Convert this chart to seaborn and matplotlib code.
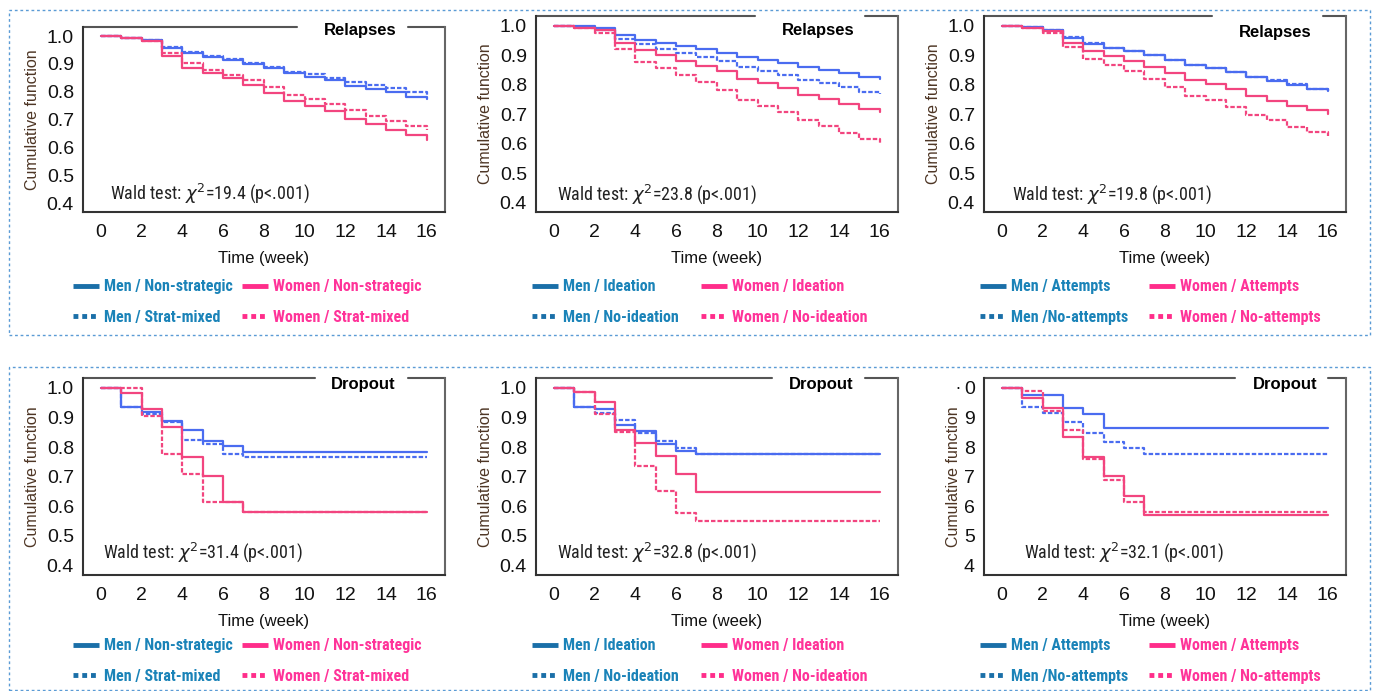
import matplotlib
matplotlib.use("Agg")
import matplotlib.pyplot as plt
import seaborn as sns
import pandas as pd
from matplotlib.lines import Line2D
from matplotlib.patches import Rectangle
from matplotlib import font_manager

# --- данные ---
weeks = list(range(17))

# Relapses: Non-strategic / Strat-mixed
rel_men_nonstrat = [1.0, 0.994, 0.988, 0.958, 0.94, 0.926, 0.914, 0.90, 0.884, 0.866, 0.854, 0.842, 0.822, 0.81, 0.798, 0.782, 0.775]
rel_men_stratmix = [1.0, 0.994, 0.988, 0.962, 0.942, 0.929, 0.917, 0.905, 0.89, 0.873, 0.863, 0.851, 0.837, 0.825, 0.813, 0.80, 0.788]
rel_wom_nonstrat = [1.0, 0.994, 0.981, 0.928, 0.887, 0.869, 0.848, 0.824, 0.797, 0.767, 0.75, 0.73, 0.704, 0.683, 0.664, 0.644, 0.628]
rel_wom_stratmix = [1.0, 0.994, 0.983, 0.938, 0.902, 0.88, 0.861, 0.842, 0.818, 0.789, 0.774, 0.755, 0.734, 0.714, 0.695, 0.676, 0.662]

# Relapses: Ideation / No-ideation
rel_men_ideation = [1.0, 0.998, 0.991, 0.969, 0.952, 0.943, 0.932, 0.92, 0.907, 0.893, 0.883, 0.874, 0.86, 0.85, 0.841, 0.827, 0.82]
rel_men_noideation = [1.0, 0.995, 0.986, 0.956, 0.938, 0.92, 0.909, 0.895, 0.88, 0.859, 0.848, 0.834, 0.816, 0.805, 0.791, 0.776, 0.767]
rel_wom_ideation = [1.0, 0.993, 0.984, 0.943, 0.916, 0.9, 0.882, 0.865, 0.845, 0.82, 0.807, 0.789, 0.766, 0.751, 0.733, 0.718, 0.708]
rel_wom_noideation = [1.0, 0.991, 0.975, 0.92, 0.877, 0.855, 0.832, 0.809, 0.781, 0.748, 0.727, 0.707, 0.68, 0.659, 0.636, 0.617, 0.6]

# Relapses: Attempts / No-attempts
rel_men_attempts = [1.0, 0.995, 0.986, 0.96, 0.939, 0.924, 0.913, 0.899, 0.884, 0.866, 0.856, 0.842, 0.825, 0.814, 0.8, 0.786, 0.777]
rel_men_noattempts = [1.0, 0.995, 0.987, 0.961, 0.94, 0.925, 0.914, 0.9, 0.885, 0.867, 0.857, 0.843, 0.826, 0.815, 0.801, 0.787, 0.778]
rel_wom_attempts = [1.0, 0.993, 0.982, 0.943, 0.915, 0.898, 0.88, 0.861, 0.84, 0.815, 0.802, 0.784, 0.761, 0.745, 0.727, 0.714, 0.7]
rel_wom_noattempts = [1.0, 0.991, 0.977, 0.927, 0.886, 0.866, 0.845, 0.82, 0.793, 0.761, 0.748, 0.725, 0.698, 0.68, 0.658, 0.639, 0.627]

# Dropout: Non-strategic / Strat-mixed
drop_men_nonstrat = [1.0, 0.936, 0.918, 0.889, 0.856, 0.822, 0.803, 0.783, 0.783, 0.783, 0.783, 0.783, 0.783, 0.783, 0.783, 0.783, 0.783]
drop_men_stratmix = [1.0, 0.936, 0.912, 0.884, 0.825, 0.811, 0.778, 0.768, 0.768, 0.768, 0.768, 0.768, 0.768, 0.768, 0.768, 0.768, 0.768]
drop_wom_nonstrat = [1.0, 0.983, 0.927, 0.867, 0.767, 0.702, 0.616, 0.581, 0.581, 0.581, 0.581, 0.581, 0.581, 0.581, 0.581, 0.581, 0.581]
drop_wom_stratmix = [1.0, 1.0, 0.904, 0.775, 0.709, 0.615, 0.615, 0.581, 0.581, 0.581, 0.581, 0.581, 0.581, 0.581, 0.581, 0.581, 0.581]

# Dropout: Ideation / No-ideation
drop_men_ideation = [1.0, 0.936, 0.927, 0.876, 0.854, 0.81, 0.788, 0.775, 0.775, 0.775, 0.775, 0.775, 0.775, 0.775, 0.775, 0.775, 0.775]
drop_men_noideation = [1.0, 0.935, 0.916, 0.89, 0.848, 0.82, 0.797, 0.778, 0.778, 0.778, 0.778, 0.778, 0.778, 0.778, 0.778, 0.778, 0.778]
drop_wom_ideation = [1.0, 0.985, 0.953, 0.859, 0.814, 0.769, 0.708, 0.648, 0.648, 0.648, 0.648, 0.648, 0.648, 0.648, 0.648, 0.648, 0.648]
drop_wom_noideation = [1.0, 0.987, 0.912, 0.85, 0.735, 0.651, 0.578, 0.55, 0.55, 0.55, 0.55, 0.55, 0.55, 0.55, 0.55, 0.55, 0.55]

# Dropout: Attempts / No-attempts
drop_men_attempts = [1.0, 0.977, 0.977, 0.932, 0.91, 0.864, 0.864, 0.864, 0.864, 0.864, 0.864, 0.864, 0.864, 0.864, 0.864, 0.864, 0.864]
drop_men_noattempts = [1.0, 0.935, 0.916, 0.884, 0.846, 0.817, 0.796, 0.775, 0.775, 0.775, 0.775, 0.775, 0.775, 0.775, 0.775, 0.775, 0.775]
drop_wom_attempts = [1.0, 0.966, 0.932, 0.834, 0.767, 0.702, 0.634, 0.57, 0.57, 0.57, 0.57, 0.57, 0.57, 0.57, 0.57, 0.57, 0.57]
drop_wom_noattempts = [1.0, 0.989, 0.921, 0.859, 0.758, 0.687, 0.615, 0.581, 0.581, 0.581, 0.581, 0.581, 0.581, 0.581, 0.581, 0.581, 0.581]

labels_strat = ["Men / Non-strategic", "Men / Strat-mixed", "Women / Non-strategic", "Women / Strat-mixed"]
labels_ideation = ["Men / Ideation", "Men / No-ideation", "Women / Ideation", "Women / No-ideation"]
labels_attempts = ["Men / Attempts", "Men /No-attempts", "Women / Attempts", "Women / No-attempts"]

wald_texts = ["19.4", "23.8", "19.8", "31.4", "32.8", "32.1"]
ytick_vals = [0.4, 0.5, 0.6, 0.7, 0.8, 0.9, 1.0]
ytick_labels = ["0.4", "0.5", "0.6", "0.7", "0.8", "0.9", "1.0"]
ytick_labels_cut = ["4", "5", "6", "7", "8", "9", "0"]
xtick_vals = [0, 2, 4, 6, 8, 10, 12, 14, 16]

# --- оформление ---
sns.set_style("white")
plt.rcParams["font.family"] = ["Liberation Sans", "DejaVu Sans"]
names = {f.name for f in font_manager.fontManager.ttflist}
narrow = [n for n in ["Roboto Condensed", "PT Sans Narrow", "Archivo Narrow"] if n in names] + ["Liberation Sans", "DejaVu Sans"]
have_narrow = narrow[0] != "Liberation Sans"

LINE_BLUE = "#4a6cf0"
LINE_PINK = "#f2457f"
LEG_BLUE = "#1a6fa8"
TXT_BLUE = "#1a83b8"
LEG_PINK = "#ff2d8a"
TXT_PINK = "#ff3399"

W, H = 1373, 691


def fx(px):
    return px / W


def fy(py):
    return 1 - py / H


fig = plt.figure(figsize=(W / 100, H / 100), dpi=100)

# пунктирные рамки вокруг рядов
for top, bottom in [(10, 335), (367, 690)]:
    fig.add_artist(Rectangle((fx(9), fy(bottom)), fx(1370) - fx(9), fy(top) - fy(bottom),
                             transform=fig.transFigure, fill=False, ec="#5b9bd5", lw=1, ls=(0, (2, 2))))

panels = [
    dict(box=(83, 27, 445, 212), title="Relapses", tpos=(360, 30), gap=(0.591, 0.898),
         series=[rel_men_nonstrat, rel_men_stratmix, rel_wom_nonstrat, rel_wom_stratmix],
         labels=labels_strat, wald=(0.44, 0.435), leg=(73, 302), yl=ytick_labels, lp=5),
    dict(box=(536, 16, 898, 212), title="Relapses", tpos=(818, 30), gap=(0.605, 0.909),
         series=[rel_men_ideation, rel_men_noideation, rel_wom_ideation, rel_wom_noideation],
         labels=labels_ideation, wald=(0.15, 0.43), leg=(532, 302), yl=ytick_labels, lp=5),
    dict(box=(984, 16, 1346, 212), title="Relapses", tpos=(1275, 32), gap=(0.63, 0.936),
         series=[rel_men_attempts, rel_men_noattempts, rel_wom_attempts, rel_wom_noattempts],
         labels=labels_attempts, wald=(0.49, 0.43), leg=(980, 302), yl=ytick_labels, lp=5),
    dict(box=(83, 378, 445, 575), title="Dropout", tpos=(363, 385), gap=(0.641, 0.898),
         series=[drop_men_nonstrat, drop_men_stratmix, drop_wom_nonstrat, drop_wom_stratmix],
         labels=labels_strat, wald=(0.1, 0.444), leg=(73, 661), yl=ytick_labels, lp=5),
    dict(box=(536, 378, 898, 575), title="Dropout", tpos=(821, 385), gap=(0.652, 0.909),
         series=[drop_men_ideation, drop_men_noideation, drop_wom_ideation, drop_wom_noideation],
         labels=labels_ideation, wald=(0.15, 0.444), leg=(532, 661), yl=ytick_labels, lp=5),
    dict(box=(984, 378, 1346, 575), title="Dropout", tpos=(1285, 384), gap=(0.693, 0.95),
         series=[drop_men_attempts, drop_men_noattempts, drop_wom_attempts, drop_wom_noattempts],
         labels=labels_attempts, wald=(1.08, 0.444), leg=(980, 661), yl=ytick_labels_cut, lp=2),
]

for i, p in enumerate(panels):
    l, t, r, b = p["box"]
    ax = fig.add_axes([fx(l), fy(b), fx(r) - fx(l), fy(t) - fy(b)])
    labs = p["labels"]

    rows = []
    for lab, vals in zip(labs, p["series"]):
        for w, v in zip(weeks, vals):
            rows.append({"week": w, "value": v, "series": lab})
    df = pd.DataFrame(rows)

    palette = {labs[0]: LINE_BLUE, labs[1]: LINE_BLUE, labs[2]: LINE_PINK, labs[3]: LINE_PINK}
    dashes = {labs[0]: "", labs[1]: (2, 0.9), labs[2]: "", labs[3]: (2, 0.9)}
    sns.lineplot(data=df, x="week", y="value", hue="series", style="series", palette=palette,
                 dashes=dashes, drawstyle="steps-post", estimator=None, legend=False,
                 ax=ax, lw=1.6)

    ax.set_xlim(-0.88, 16.9)
    ax.set_ylim(0.368, 1.033)
    ax.set_xticks(xtick_vals)
    ax.set_yticks(ytick_vals)
    ax.set_yticklabels(p["yl"])
    ax.tick_params(direction="inout", length=11, width=1.3, color="#333333",
                   labelsize=14, pad=1, labelcolor="#111111")
    ax.tick_params(axis="x", pad=3)
    ax.set_xlabel("Time (week)", fontsize=12, labelpad=7, color="#111111")
    ax.set_ylabel("Cumulative function", fontsize=11.5, labelpad=p["lp"], color="#4d3524")

    for side in ["left", "bottom"]:
        ax.spines[side].set_color("#333333")
        ax.spines[side].set_linewidth(1.5)
    ax.spines["right"].set_color("#666666")
    ax.spines["right"].set_linewidth(1.5)
    ax.spines["top"].set_visible(False)
    g0, g1 = p["gap"]
    ax.plot([0, g0], [1, 1], transform=ax.transAxes, color="#555555", lw=1.5, clip_on=False)
    ax.plot([g1, 1], [1, 1], transform=ax.transAxes, color="#555555", lw=1.5, clip_on=False)

    fig.text(fx(p["tpos"][0]), fy(p["tpos"][1]), p["title"], ha="center", va="center",
             fontsize=12, fontweight="bold", color="black")

    ax.text(p["wald"][0], p["wald"][1], r"Wald test: $\chi^{2}$=" + wald_texts[i] + " (p<.001)",
            ha="left", va="center", fontsize=13 if have_narrow else 11,
            family=narrow, color="#222222")

    # легенда: две колонки, цветной текст
    h_solid_m = Line2D([], [], color=LEG_BLUE, lw=3.5, solid_capstyle="butt")
    h_dot_m = Line2D([], [], color=LEG_BLUE, lw=3.5, ls=(0, (1, 0.8)))
    h_solid_w = Line2D([], [], color=LEG_PINK, lw=3.5, solid_capstyle="butt")
    h_dot_w = Line2D([], [], color=LEG_PINK, lw=3.5, ls=(0, (1, 0.8)))
    lx, ly = p["leg"]
    prop = dict(family=narrow, weight="bold", size=11.5 if have_narrow else 10)
    for handles, texts, xoff, col in [([h_solid_m, h_dot_m], labs[:2], 0, TXT_BLUE),
                                      ([h_solid_w, h_dot_w], labs[2:], 169, TXT_PINK)]:
        leg = fig.legend(handles, texts, loc="center left",
                         bbox_to_anchor=(fx(lx + xoff), fy(ly)), bbox_transform=fig.transFigure,
                         frameon=False, borderpad=0, borderaxespad=0, handlelength=1.65,
                         handletextpad=0.3, labelspacing=0.95 if have_narrow else 1.05, prop=prop)
        for txt in leg.get_texts():
            txt.set_color(col)

# обрезанная метка в последней панели
fig.text(fx(958), fy(384), ".", ha="center", va="center", fontsize=13, color="#111111")

fig.savefig("out.png", dpi=100)
